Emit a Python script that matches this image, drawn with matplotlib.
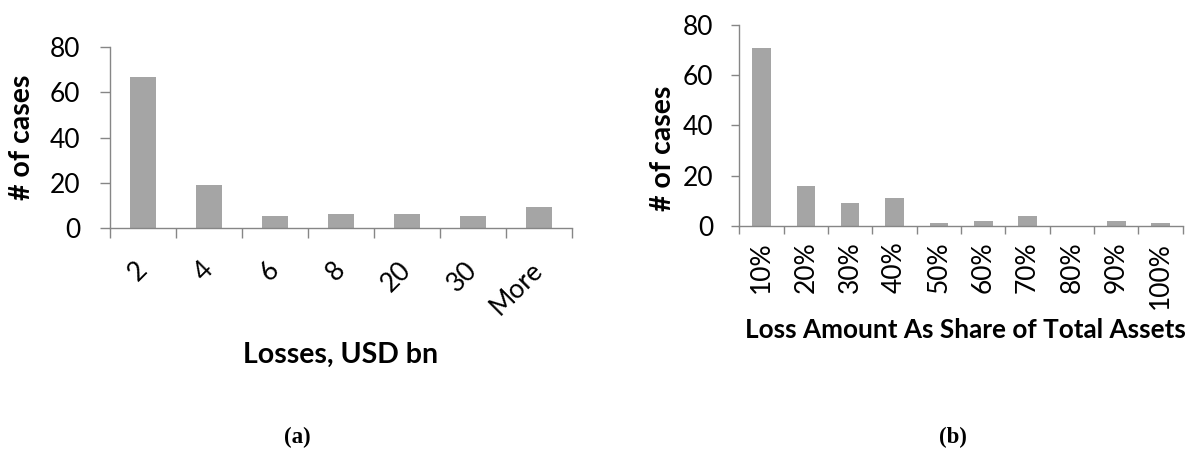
import matplotlib
matplotlib.use("Agg")
import matplotlib.pyplot as plt

# data
loss_bins = ['2', '4', '6', '8', '20', '30', 'More']
loss_counts = [67, 19, 5, 6, 6, 5, 9]

share_bins = ['10%', '20%', '30%', '40%', '50%', '60%', '70%', '80%', '90%', '100%']
share_counts = [71, 16, 9, 11, 1, 2, 4, 0, 2, 1]

W, H = 1191, 450
PT = 72 / 100  # points per pixel at dpi 100
bar_color = '#a5a5a5'
axis_color = '#868686'
plt.rcParams['font.family'] = ['Lato', 'DejaVu Sans']

fig = plt.figure(figsize=(W / 100, H / 100), dpi=100)


def px_axes(left, right, top, bottom):
    # axes box given in pixel coords measured from the top-left corner
    return fig.add_axes([left / W, 1 - bottom / H, (right - left) / W, (bottom - top) / H])


def style(ax, n, tick_px, ypad_px):
    ax.set_xlim(-0.5, n - 0.5)
    ax.set_ylim(0, 80)
    ax.set_yticks([0, 20, 40, 60, 80])
    for s in ['top', 'right']:
        ax.spines[s].set_visible(False)
    for s in ['left', 'bottom']:
        ax.spines[s].set_color(axis_color)
        ax.spines[s].set_linewidth(1)
    ax.set_xticks([i - 0.5 for i in range(n + 1)], minor=True)
    ax.tick_params(axis='x', which='minor', length=tick_px * PT, color=axis_color, width=1, direction='out')
    ax.tick_params(axis='x', which='major', length=0)
    ax.tick_params(axis='y', length=tick_px * PT, color=axis_color, width=1,
                   labelsize=19, pad=ypad_px * PT)


# (a) losses in USD bn
ax1 = px_axes(110, 572, 47.3, 227.7)
ax1.bar(range(len(loss_bins)), loss_counts, width=0.4, color=bar_color)
style(ax1, len(loss_bins), 10, 20)
ax1.set_xticks(range(len(loss_bins)))
ax1.set_xticklabels(loss_bins, fontsize=19)
for lab in ax1.get_xticklabels():
    lab.set_rotation(45)
    lab.set_ha('right')
    lab.set_va('center')
    lab.set_rotation_mode('anchor')
ax1.tick_params(axis='x', which='major', pad=38 * PT)

# (b) loss as share of total assets
ax2 = px_axes(739.3, 1182.8, 25, 225.7)
ax2.bar(range(len(share_bins)), share_counts, width=0.42, color=bar_color)
style(ax2, len(share_bins), 8, 18)
ax2.set_xticks(range(len(share_bins)))
ax2.set_xticklabels(share_bins, fontsize=19, rotation=90)
ax2.tick_params(axis='x', which='major', pad=16 * PT)


def ftext(x, y, s, **kw):
    fig.text(x / W, 1 - y / H, s, ha='center', va='center', **kw)


ftext(22.5, 137.5, '# of cases', rotation=90, fontsize=20.5, fontweight='bold')
ftext(663, 148, '# of cases', rotation=90, fontsize=20.5, fontweight='bold')
ftext(340.5, 355, 'Losses, USD bn', fontsize=20.5, fontweight='bold')
ftext(965, 330, 'Loss Amount As Share of Total Assets', fontsize=18.8, fontweight='bold')
ftext(297, 437, '(a)', fontsize=16.5, fontweight='bold', family='Liberation Serif')
ftext(953, 437, '(b)', fontsize=16.5, fontweight='bold', family='Liberation Serif')

fig.savefig('out.png', dpi=100)
